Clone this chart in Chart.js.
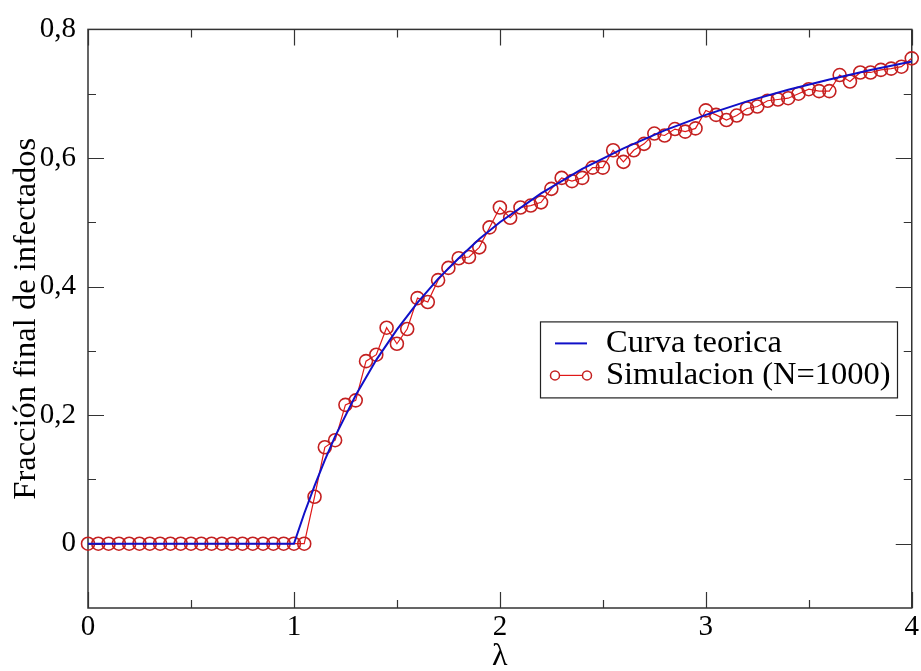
<!DOCTYPE html>
<html>
<head>
<meta charset="utf-8">
<script src="https://cdn.jsdelivr.net/npm/chart.js@4"></script>
<style>
  html, body { margin: 0; padding: 0; background: #fff; }
  #wrap { width: 921px; height: 671px; }
  .probe { font-family: 'Liberation Serif'; position: absolute; left: -999px; }
</style>
</head>
<body>
<span class="probe">0,8 λ Fracción</span>
<div id="wrap"><canvas id="myChart" width="921" height="671"></canvas></div>
<script>
// simulation points (N=1000)
const lambdaSim = [
  0, 0.05, 0.1, 0.15, 0.2, 0.25, 0.3, 0.35, 0.4, 0.45, 0.5, 0.55, 0.6, 0.65, 0.7, 0.75,
  0.8, 0.85, 0.9, 0.95, 1.0, 1.05, 1.1, 1.15, 1.2, 1.25, 1.3, 1.35, 1.4, 1.45, 1.5, 1.55,
  1.6, 1.65, 1.7, 1.75, 1.8, 1.85, 1.9, 1.95, 2.0, 2.05, 2.1, 2.15, 2.2, 2.25, 2.3, 2.35,
  2.4, 2.45, 2.5, 2.55, 2.6, 2.65, 2.7, 2.75, 2.8, 2.85, 2.9, 2.95, 3.0, 3.05, 3.1, 3.15,
  3.2, 3.25, 3.3, 3.35, 3.4, 3.45, 3.5, 3.55, 3.6, 3.65, 3.7, 3.75, 3.8, 3.85, 3.9, 3.95, 4.0
];
const fracSim = [
  0, 0, 0, 0, 0, 0, 0, 0, 0, 0, 0, 0, 0, 0, 0, 0,
  0, 0, 0, 0, 0, 0, 0.073, 0.150, 0.161, 0.216, 0.223, 0.284, 0.294, 0.336, 0.311, 0.334,
  0.382, 0.376, 0.410, 0.429, 0.444, 0.446, 0.461, 0.492, 0.523, 0.507, 0.523, 0.526, 0.531, 0.552, 0.569, 0.564,
  0.569, 0.585, 0.585, 0.612, 0.594, 0.612, 0.622, 0.638, 0.635, 0.645, 0.641, 0.646, 0.674, 0.667, 0.659, 0.666,
  0.677, 0.680, 0.689, 0.691, 0.693, 0.700, 0.707, 0.704, 0.704, 0.729, 0.719, 0.733, 0.733, 0.737, 0.739, 0.742, 0.755
];

// theoretical curve
const lambdaTeo = [0, 1, 1.05, 1.1, 1.15, 1.2, 1.3, 1.4, 1.5, 1.6, 1.7, 1.8, 1.9, 2.0,
  2.2, 2.4, 2.6, 2.8, 3.0, 3.2, 3.4, 3.6, 3.8, 4.0];
const fracTeo = [0, 0, 0.047, 0.09, 0.13, 0.167, 0.231, 0.286, 0.333, 0.375, 0.412, 0.444, 0.474, 0.5,
  0.545, 0.583, 0.615, 0.643, 0.667, 0.688, 0.706, 0.722, 0.737, 0.75];

const xTicks = [0, 1, 2, 3, 4];
const xTickLabels = ['0', '1', '2', '3', '4'];
const xMinor = [0.5, 1.5, 2.5, 3.5];
const yTicks = [0, 0.2, 0.4, 0.6, 0.8];
const yTickLabels = ['0', '0,2', '0,4', '0,6', '0,8'];
const yMinor = [0.1, 0.3, 0.5, 0.7];

const seriesLabels = ['Curva teorica', 'Simulacion (N=1000)'];
const xTitle = 'λ';
const yTitle = 'Fracción final de infectados';

const SERIF = "'Liberation Serif', 'Times New Roman', Times, serif";
const BLUE = '#1010c8';
const RED = '#e01818';
const DARKRED = '#c42020';

function toPoints(xs, ys) {
  return xs.map((x, i) => ({ x: x, y: ys[i] }));
}

// frame and inward ticks on all four sides
const frameTicks = {
  id: 'frameTicks',
  beforeDatasetsDraw(chart) {
    const { ctx, chartArea: a, scales: { x, y } } = chart;
    ctx.save();
    ctx.strokeStyle = '#333';
    ctx.lineWidth = 1.5;
    ctx.strokeRect(a.left, a.top, a.right - a.left, a.bottom - a.top);
    ctx.lineWidth = 1.2;
    ctx.beginPath();
    function xt(v, len) {
      const px = Math.round(x.getPixelForValue(v)) + 0.5;
      ctx.moveTo(px, a.bottom); ctx.lineTo(px, a.bottom - len);
      ctx.moveTo(px, a.top); ctx.lineTo(px, a.top + len);
    }
    function yt(v, len) {
      const py = Math.round(y.getPixelForValue(v)) + 0.5;
      ctx.moveTo(a.left, py); ctx.lineTo(a.left + len, py);
      ctx.moveTo(a.right, py); ctx.lineTo(a.right - len, py);
    }
    xTicks.forEach(v => xt(v, 16));
    xMinor.forEach(v => xt(v, 8));
    yTicks.forEach(v => yt(v, 16));
    yMinor.forEach(v => yt(v, 8));
    ctx.stroke();
    ctx.restore();
  }
};

// boxed legend like the original
const boxLegend = {
  id: 'boxLegend',
  afterDraw(chart) {
    const { ctx, chartArea: a } = chart;
    const left = a.left + 452, top = a.top + 292, w = 357, h = 76;
    ctx.save();
    ctx.strokeStyle = '#222';
    ctx.lineWidth = 1.2;
    ctx.strokeRect(left + 0.5, top + 0.5, w, h);
    const row1 = top + 22, row2 = top + 54;
    const s0 = left + 15, s1 = left + 47;
    ctx.strokeStyle = BLUE;
    ctx.lineWidth = 2;
    ctx.beginPath(); ctx.moveTo(s0, row1); ctx.lineTo(s1, row1); ctx.stroke();
    ctx.strokeStyle = RED;
    ctx.lineWidth = 1.2;
    ctx.beginPath(); ctx.moveTo(s0, row2); ctx.lineTo(s1, row2); ctx.stroke();
    ctx.strokeStyle = DARKRED;
    ctx.lineWidth = 1.5;
    [s0, s1].forEach(cx => {
      ctx.beginPath(); ctx.arc(cx, row2, 4.5, 0, Math.PI * 2);
      ctx.fillStyle = '#fff'; ctx.fill(); ctx.stroke();
    });
    ctx.fillStyle = '#000';
    ctx.font = '32.5px ' + SERIF;
    ctx.textBaseline = 'middle';
    ctx.textAlign = 'left';
    ctx.fillText(seriesLabels[0], left + 66, row1);
    ctx.fillText(seriesLabels[1], left + 66, row2);
    ctx.restore();
  }
};

function drawChart() {
  const ctx = document.getElementById('myChart').getContext('2d');
  new Chart(ctx, {
    type: 'scatter',
    data: {
      datasets: [
        {
          label: seriesLabels[0],
          data: toPoints(lambdaTeo, fracTeo),
          showLine: true,
          borderColor: BLUE,
          borderWidth: 2,
          pointRadius: 0,
          tension: 0,
          clip: false
        },
        {
          label: seriesLabels[1],
          data: toPoints(lambdaSim, fracSim),
          showLine: true,
          borderColor: RED,
          borderWidth: 1.2,
          pointRadius: 6.5,
          pointBorderColor: DARKRED,
          pointBackgroundColor: 'rgba(0,0,0,0)',
          pointBorderWidth: 1.6,
          tension: 0,
          clip: false
        }
      ]
    },
    options: {
      responsive: false,
      animation: false,
      events: [],
      layout: { padding: { top: 27, right: 9, left: 0, bottom: 0 } },
      plugins: {
        legend: { display: false },
        tooltip: { enabled: false }
      },
      scales: {
        x: {
          type: 'linear',
          min: 0,
          max: 4,
          grid: { display: false, drawTicks: false },
          border: { display: false },
          afterBuildTicks: scale => { scale.ticks = xTicks.map(v => ({ value: v })); },
          afterFit: scale => { scale.height = 63; },
          ticks: {
            color: '#000',
            padding: 2,
            maxRotation: 0,
            font: { family: SERIF, size: 29 },
            callback: (v, i) => xTickLabels[i]
          },
          title: {
            display: true,
            text: xTitle,
            color: '#000',
            padding: { top: 0, bottom: -5 },
            font: { family: SERIF, size: 32 }
          }
        },
        y: {
          type: 'linear',
          min: -0.1,
          max: 0.8,
          grid: { display: false, drawTicks: false },
          border: { display: false },
          afterBuildTicks: scale => { scale.ticks = yTicks.map(v => ({ value: v })); },
          afterFit: scale => { scale.width = 88; },
          ticks: {
            color: '#000',
            padding: 12,
            font: { family: SERIF, size: 29 },
            callback: (v, i) => yTickLabels[i]
          },
          title: {
            display: true,
            text: yTitle,
            color: '#000',
            padding: { top: 7, bottom: 0 },
            font: { family: SERIF, size: 32.5 }
          }
        }
      }
    },
    plugins: [frameTicks, boxLegend]
  });
}

if (document.fonts && document.fonts.load) {
  document.fonts.load("30px 'Liberation Serif'").then(drawChart, drawChart);
} else {
  drawChart();
}
</script>
</body>
</html>
